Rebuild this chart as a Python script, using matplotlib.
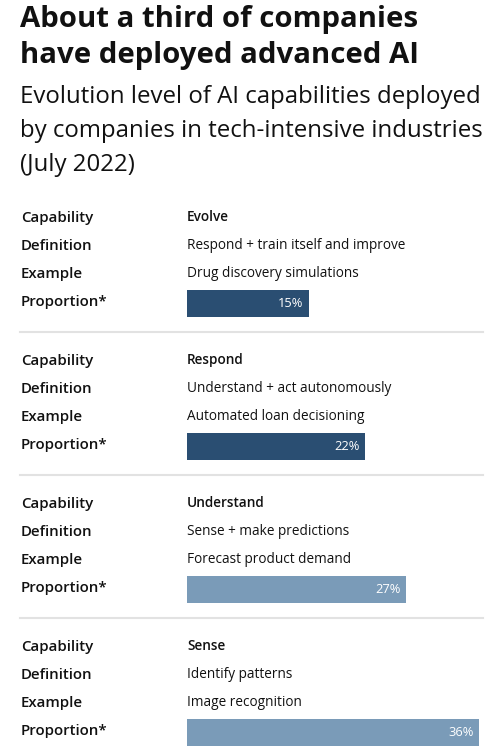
import matplotlib
matplotlib.use("Agg")
import matplotlib.pyplot as plt

# ---- data ----
title_lines = ["About a third of companies", "have deployed advanced AI"]
subtitle_lines = ["Evolution level of AI capabilities deployed",
                  "by companies in tech-intensive industries",
                  "(July 2022)"]
row_labels = ["Capability", "Definition", "Example", "Proportion*"]
capabilities = ["Evolve", "Respond", "Understand", "Sense"]
definitions = ["Respond + train itself and improve",
               "Understand + act autonomously",
               "Sense + make predictions",
               "Identify patterns"]
examples = ["Drug discovery simulations",
            "Automated loan decisioning",
            "Forecast product demand",
            "Image recognition"]
proportions = [15, 22, 27, 36]
bar_colors = ["#2a4e72", "#2a4e72", "#7a9bb8", "#7a9bb8"]

W, H = 504, 751
FONT = ["Open Sans", "DejaVu Sans"]
fig = plt.figure(figsize=(W / 100, H / 100), dpi=100)
fig.patch.set_facecolor("white")
ax = fig.add_axes([0, 0, 1, 1])
ax.set_xlim(0, W)
ax.set_ylim(H, 0)
ax.axis("off")

# title
for i, t in enumerate(title_lines):
    ax.text(20, 27 + i * 36, t, fontsize=21.2, fontweight="bold", family=FONT,
            color="#111111", va="baseline", ha="left")
for i, t in enumerate(subtitle_lines):
    ax.text(20, 103 + i * 34, t, fontsize=17.3, family=FONT,
            color="#111111", va="baseline", ha="left")

sec = 143
vmax = max(proportions)
for k in range(len(capabilities)):
    off = k * sec
    for j, lab in enumerate(row_labels):
        ax.text(21, 222 + off + j * 28, lab, fontsize=10.8, fontweight="semibold",
                family=FONT, color="#111111", va="baseline", ha="left")
    ax.text(187, 221 + off, capabilities[k], fontsize=9.8, fontweight="semibold",
            family=FONT, color="#111111", va="baseline", ha="left")
    ax.text(187, 249 + off, definitions[k], fontsize=9.8,
            family=FONT, color="#111111", va="baseline", ha="left")
    ax.text(187, 277 + off, examples[k], fontsize=9.8,
            family=FONT, color="#111111", va="baseline", ha="left")
    if k < len(capabilities) - 1:
        ax.plot([20, 483], [332 + off, 332 + off], color="#e2e2e2", lw=1.5)

    # bar axes
    top = 290 + off
    bax = fig.add_axes([187 / W, 1 - (top + 27) / H, 292 / W, 27 / H])
    bax.set_xlim(0, vmax)
    bax.set_ylim(-0.5, 0.5)
    bax.axis("off")
    bax.barh(0, proportions[k], height=1.0, color=bar_colors[k])
    bax.annotate(f"{proportions[k]}%", xy=(proportions[k], 0), xytext=(-4, 0),
                 textcoords="offset points", ha="right", va="center",
                 fontsize=9.3, fontweight="medium", color="white", family=FONT)

fig.savefig("out.png", dpi=100, facecolor="white")
